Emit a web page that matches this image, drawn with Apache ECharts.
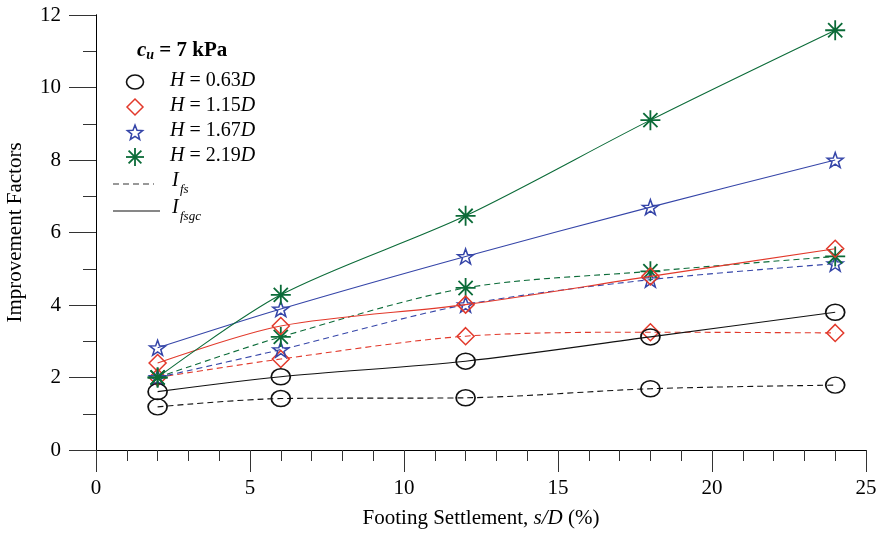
<!DOCTYPE html>
<html>
<head>
<meta charset="utf-8">
<script src="https://cdn.jsdelivr.net/npm/echarts@6/dist/echarts.min.js"></script>
<style>
  html, body { margin: 0; padding: 0; background: #fff; }
  #chart { width: 881px; height: 533px; }
</style>
</head>
<body>
<div id="chart"></div>
<script>
// Footing settlement s/D (%) at which the improvement factors were evaluated
const settlement = [2, 6, 12, 18, 24];

// I_fs (dashed) for each geocell height
const ifs063 = [1.19, 1.42, 1.44, 1.69, 1.79];
const ifs115 = [2.00, 2.51, 3.14, 3.25, 3.23];
const ifs167 = [2.00, 2.77, 4.01, 4.70, 5.14];
const ifs219 = [2.00, 3.12, 4.47, 4.93, 5.34];

// I_fsgc (solid) for each geocell height
const ifsgc063 = [1.61, 2.02, 2.45, 3.12, 3.80];
const ifsgc115 = [2.40, 3.42, 4.01, 4.79, 5.55];
const ifsgc167 = [2.82, 3.89, 5.34, 6.70, 8.00];
const ifsgc219 = [2.00, 4.28, 6.46, 9.10, 11.58];

const heightLabels = ['0.63', '1.15', '1.67', '2.19'];

const FONT = '"Liberation Serif", "DejaVu Serif", serif';
const BLACK = '#111111';
const RED = '#e2392b';
const BLUE = '#3545a8';
const GREEN = '#0b6b38';

const STAR = 'path://M0,-10L2.35,-3.24L9.51,-3.09L3.8,1.24L5.88,8.09L0,4L-5.88,8.09L-3.8,1.24L-9.51,-3.09L-2.35,-3.24Z';
const ASTER = 'path://M0,-10L0,10M-10,0L10,0M-7.07,-7.07L7.07,7.07M-7.07,7.07L7.07,-7.07';

const markers = [
  { symbol: 'circle', size: [19, 16], color: BLACK, bw: 1.6 },
  { symbol: 'diamond', size: [17, 17], color: RED, bw: 1.5 },
  { symbol: STAR, size: [16, 15], color: BLUE, bw: 1.5 },
  { symbol: ASTER, size: [20, 20], color: GREEN, bw: 1.8 }
];

function pairs(ys) {
  return settlement.map((x, i) => [x, ys[i]]);
}

function makeSeries(name, ys, k, dashed) {
  const m = markers[k];
  return {
    name: name,
    type: 'line',
    data: pairs(ys),
    smooth: 0.3,
    symbol: m.symbol,
    symbolSize: m.size,
    showAllSymbol: true,
    lineStyle: { color: m.color, width: 1.1, type: dashed ? [6, 4] : 'solid' },
    itemStyle: { color: 'transparent', borderColor: m.color, borderWidth: m.bw },
    emphasis: { disabled: true },
    z: dashed ? 2 : 3
  };
}

const series = [
  makeSeries('Ifs 0.63', ifs063, 0, true),
  makeSeries('Ifs 1.15', ifs115, 1, true),
  makeSeries('Ifs 1.67', ifs167, 2, true),
  makeSeries('Ifs 2.19', ifs219, 3, true),
  makeSeries('Ifsgc 0.63', ifsgc063, 0, false),
  makeSeries('Ifsgc 1.15', ifsgc115, 1, false),
  makeSeries('Ifsgc 1.67', ifsgc167, 2, false),
  makeSeries('Ifsgc 2.19', ifsgc219, 3, false)
];

// Legend block drawn as graphic elements
const LX = 135;          // symbol centre x
const TX = 170;          // text start x
const rowY = [82, 107, 132, 157, 184, 211];
const graphics = [];

graphics.push({
  type: 'text', left: 137, top: 40,
  style: {
    text: '{c|c}{u|u}{t| = 7 kPa}',
    rich: {
      c: { font: 'italic bold 21px ' + FONT, fill: '#000' },
      u: { font: 'italic bold 14px ' + FONT, fill: '#000', padding: [10, 0, 0, 0] },
      t: { font: 'bold 21px ' + FONT, fill: '#000' }
    }
  }
});

function symbolGraphic(k, cy) {
  const m = markers[k];
  const st = { fill: 'none', stroke: m.color, lineWidth: m.bw };
  if (k === 0) return { type: 'ellipse', shape: { cx: LX, cy: cy, rx: 8.5, ry: 7 }, style: st };
  if (k === 1) return { type: 'polygon', shape: { points: [[LX, cy - 8], [LX + 8, cy], [LX, cy + 8], [LX - 8, cy]] }, style: st };
  if (k === 2) {
    const pts = [];
    for (let i = 0; i < 10; i++) {
      const r = i % 2 === 0 ? 8 : 3.4;
      const a = (-90 + i * 36) * Math.PI / 180;
      pts.push([LX + r * Math.cos(a), cy + 1 + r * Math.sin(a)]);
    }
    return { type: 'polygon', shape: { points: pts }, style: st };
  }
  const r = 9, d = 6.4;
  return {
    type: 'group',
    children: [
      { type: 'line', shape: { x1: LX, y1: cy - r, x2: LX, y2: cy + r }, style: st },
      { type: 'line', shape: { x1: LX - r, y1: cy, x2: LX + r, y2: cy }, style: st },
      { type: 'line', shape: { x1: LX - d, y1: cy - d, x2: LX + d, y2: cy + d }, style: st },
      { type: 'line', shape: { x1: LX - d, y1: cy + d, x2: LX + d, y2: cy - d }, style: st }
    ]
  };
}

for (let k = 0; k < 4; k++) {
  graphics.push(symbolGraphic(k, rowY[k]));
  graphics.push({
    type: 'text', left: TX, top: rowY[k] - 11,
    style: {
      text: '{i|H} = ' + heightLabels[k] + '{i|D}',
      rich: {
        i: { font: 'italic 20px ' + FONT, fill: '#000' }
      },
      font: '20px ' + FONT, fill: '#000'
    }
  });
}

graphics.push({
  type: 'line', shape: { x1: 113, y1: rowY[4], x2: 154, y2: rowY[4] },
  style: { stroke: '#333', lineWidth: 1.1, lineDash: [6, 4] }
});
graphics.push({
  type: 'line', shape: { x1: 113, y1: rowY[5], x2: 160, y2: rowY[5] },
  style: { stroke: '#111', lineWidth: 1.1 }
});
graphics.push({ type: 'text', left: TX + 2, top: rowY[4] - 13, style: { text: 'I', font: 'italic 20px ' + FONT, fill: '#000' } });
graphics.push({ type: 'text', left: TX + 10, top: rowY[4] - 1, style: { text: 'fs', font: 'italic 13px ' + FONT, fill: '#000' } });
graphics.push({ type: 'text', left: TX + 2, top: rowY[5] - 13, style: { text: 'I', font: 'italic 20px ' + FONT, fill: '#000' } });
graphics.push({ type: 'text', left: TX + 10, top: rowY[5] - 1, style: { text: 'fsgc', font: 'italic 13px ' + FONT, fill: '#000' } });

const tickStyle = { color: '#333', width: 1 };
const labelStyle = { color: '#000', fontFamily: FONT, fontSize: 21 };

const option = {
  animation: false,
  backgroundColor: '#ffffff',
  textStyle: { fontFamily: FONT },
  grid: { left: 96, right: 15, top: 15, bottom: 83, containLabel: false, outerBoundsMode: 'none' },
  xAxis: [
    {
      type: 'value', position: 'bottom', min: 0, max: 25, interval: 5,
      axisLine: { lineStyle: { color: '#000', width: 1 } },
      axisTick: { show: true, inside: false, length: 22, lineStyle: tickStyle },
      minorTick: { show: true, splitNumber: 5, length: 11, lineStyle: tickStyle },
      axisLabel: Object.assign({ margin: 28 }, labelStyle),
      splitLine: { show: false },
      name: 'Footing Settlement, {i|s/D} (%)',
      nameLocation: 'middle', nameGap: 58,
      nameTextStyle: Object.assign({
        rich: { i: { fontStyle: 'italic', fontFamily: FONT, fontSize: 21, color: '#000' } }
      }, labelStyle)
    },
    {
      type: 'value', position: 'top', min: 0, max: 25, interval: 5,
      axisLine: { show: true, lineStyle: { color: '#000', width: 1 } },
      axisTick: { show: true, inside: true, length: 21, lineStyle: tickStyle },
      minorTick: { show: true, splitNumber: 5, length: 11, lineStyle: tickStyle },
      axisLabel: { show: false },
      splitLine: { show: false }
    }
  ],
  yAxis: [
    {
      type: 'value', position: 'left', min: 0, max: 12, interval: 2,
      axisLine: { show: true, lineStyle: { color: '#000', width: 1 } },
      axisTick: { show: true, inside: false, length: 26, lineStyle: tickStyle },
      minorTick: { show: true, splitNumber: 2, length: 13, lineStyle: tickStyle },
      axisLabel: Object.assign({ margin: 35 }, labelStyle),
      splitLine: { show: false },
      name: 'Improvement Factors',
      nameLocation: 'middle', nameGap: 70, nameRotate: 90,
      nameTextStyle: labelStyle
    },
    {
      type: 'value', position: 'right', min: 0, max: 12, interval: 2,
      axisLine: { show: true, lineStyle: { color: '#000', width: 1 } },
      axisTick: { show: true, inside: true, length: 27, lineStyle: tickStyle },
      minorTick: { show: true, splitNumber: 2, length: 13, lineStyle: tickStyle },
      axisLabel: { show: false },
      splitLine: { show: false }
    }
  ],
  graphic: graphics,
  series: series
};

const chart = echarts.init(document.getElementById('chart'), null, { renderer: 'canvas' });
chart.setOption(option);
</script>
</body>
</html>
